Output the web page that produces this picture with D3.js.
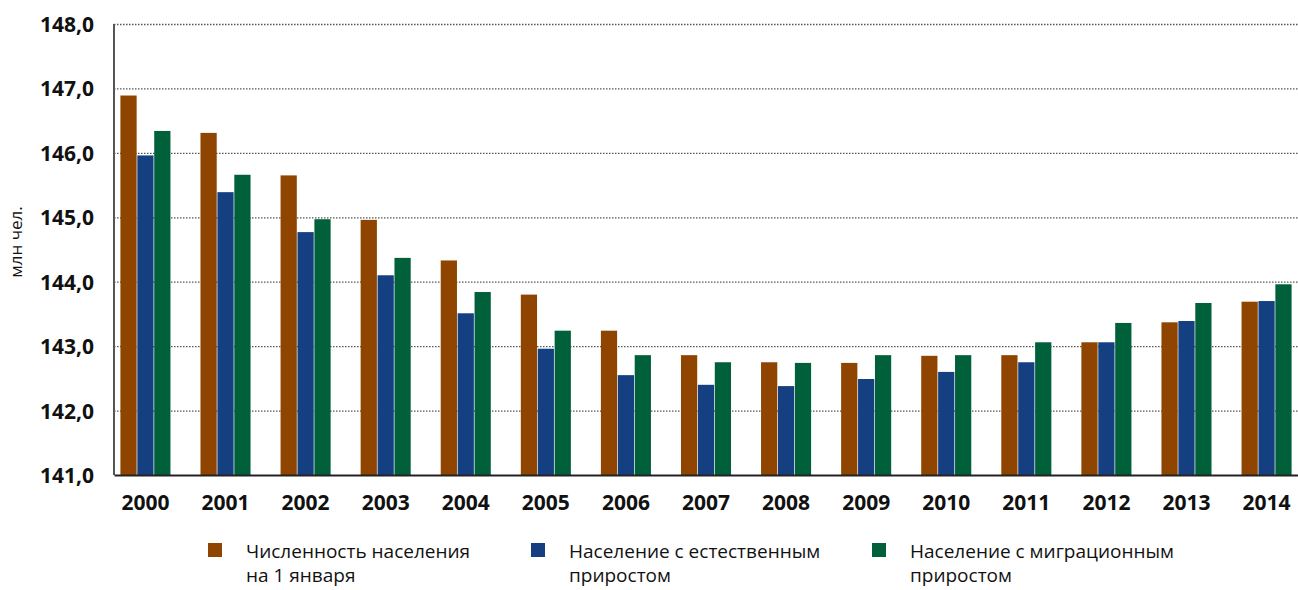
<!DOCTYPE html>
<html>
<head>
<meta charset="utf-8">
<script src="https://cdn.jsdelivr.net/npm/d3@7"></script>
<style>
  body { margin: 0; background: #fff; }
  svg { display: block; }
</style>
</head>
<body>
<svg width="1298" height="590"></svg>
<script>
const years = ['2000','2001','2002','2003','2004','2005','2006','2007','2008','2009','2010','2011','2012','2013','2014'];
const population = [146.89, 146.31, 145.65, 144.96, 144.33, 143.80, 143.24, 142.86, 142.75, 142.74, 142.85, 142.86, 143.06, 143.37, 143.69];
const naturalGrowth = [145.96, 145.39, 144.77, 144.10, 143.51, 142.96, 142.55, 142.40, 142.38, 142.49, 142.60, 142.75, 143.06, 143.39, 143.70];
const migrationGrowth = [146.34, 145.66, 144.97, 144.37, 143.84, 143.24, 142.86, 142.75, 142.74, 142.86, 142.86, 143.06, 143.36, 143.67, 143.96];
const seriesNames = ['Численность населения|на 1 января', 'Население с естественным|приростом', 'Население с миграционным|приростом'];
const colors = ['#8F4500', '#144082', '#00603A'];
const yTicks = [141, 142, 143, 144, 145, 146, 147, 148];

const font = '"Open Sans", "Noto Sans", sans-serif';
const svg = d3.select('svg');
const margin = {top: 24, right: 0, bottom: 115, left: 114};
const width = +svg.attr('width');
const height = +svg.attr('height');
const innerWidth = width - margin.left - margin.right;
const innerHeight = height - margin.top - margin.bottom;

const series = [population, naturalGrowth, migrationGrowth];
const data = years.map((year, i) => ({year, values: series.map(s => s[i])}));

const xScale = d3.scaleBand()
  .domain(years)
  .range([0, innerWidth])
  .paddingInner(0.375)
  .paddingOuter(0.08);

const xInner = d3.scaleBand()
  .domain([0, 1, 2])
  .range([0, xScale.bandwidth()])
  .paddingInner(0.04);

const yScale = d3.scaleLinear()
  .domain([141, 148])
  .range([innerHeight, 0]);

const g = svg.append('g')
  .attr('transform', `translate(${margin.left}, ${margin.top})`);

// dotted gridlines + y labels
const yAxis = d3.axisLeft(yScale)
  .tickValues(yTicks)
  .tickSize(-innerWidth)
  .tickPadding(20)
  .tickFormat(d => d3.format('.1f')(d).replace('.', ','));

const yAxisG = g.append('g').call(yAxis)
  .attr('font-family', font)
  .attr('font-size', 21)
  .attr('font-weight', 700);
yAxisG.select('.domain').remove();
yAxisG.selectAll('.tick line')
  .attr('stroke', '#555')
  .attr('stroke-width', 1.3)
  .attr('stroke-dasharray', '1.5,1.5')
  .filter(d => d === 141).remove();
yAxisG.selectAll('.tick text')
  .attr('fill', '#111')
  .attr('dy', '0.36em');

// bars
const groups = g.selectAll('.group').data(data)
  .enter().append('g')
    .attr('class', 'group')
    .attr('transform', d => `translate(${xScale(d.year)}, 0)`);

groups.selectAll('rect').data(d => d.values)
  .enter().append('rect')
    .attr('x', (d, i) => xInner(i))
    .attr('width', xInner.bandwidth())
    .attr('y', d => yScale(d))
    .attr('height', d => innerHeight - yScale(d))
    .attr('fill', (d, i) => colors[i]);

// left axis line
g.append('line')
  .attr('x1', 0).attr('x2', 0)
  .attr('y1', 0).attr('y2', innerHeight)
  .attr('stroke', '#555')
  .attr('stroke-width', 2);

const xAxis = d3.axisBottom(xScale)
  .tickSize(0)
  .tickPadding(20);

const xAxisG = g.append('g')
  .attr('transform', `translate(0, ${innerHeight})`)
  .call(xAxis)
  .attr('font-family', font)
  .attr('font-size', 21)
  .attr('font-weight', 700);
xAxisG.select('.domain')
  .attr('stroke', '#222')
  .attr('stroke-width', 2);
xAxisG.selectAll('.tick text')
  .attr('fill', '#111');

// y axis title
svg.append('text')
  .attr('transform', 'translate(22, 242) rotate(-90)')
  .attr('text-anchor', 'middle')
  .attr('font-family', font)
  .attr('font-size', 17)
  .attr('fill', '#111')
  .text('млн чел.');

// legend
const legendX = [208, 531, 872];
const legend = svg.selectAll('.legend').data(seriesNames)
  .enter().append('g')
    .attr('class', 'legend')
    .attr('transform', (d, i) => `translate(${legendX[i]}, 543)`);

legend.append('rect')
  .attr('width', 14)
  .attr('height', 14)
  .attr('fill', (d, i) => colors[i]);

legend.append('text')
  .attr('font-family', font)
  .attr('font-size', 19)
  .attr('fill', '#111')
  .selectAll('tspan').data(d => d.split('|'))
  .enter().append('tspan')
    .attr('x', 38)
    .attr('y', (d, i) => 15 + i * 24)
    .text(d => d);
</script>
</body>
</html>
